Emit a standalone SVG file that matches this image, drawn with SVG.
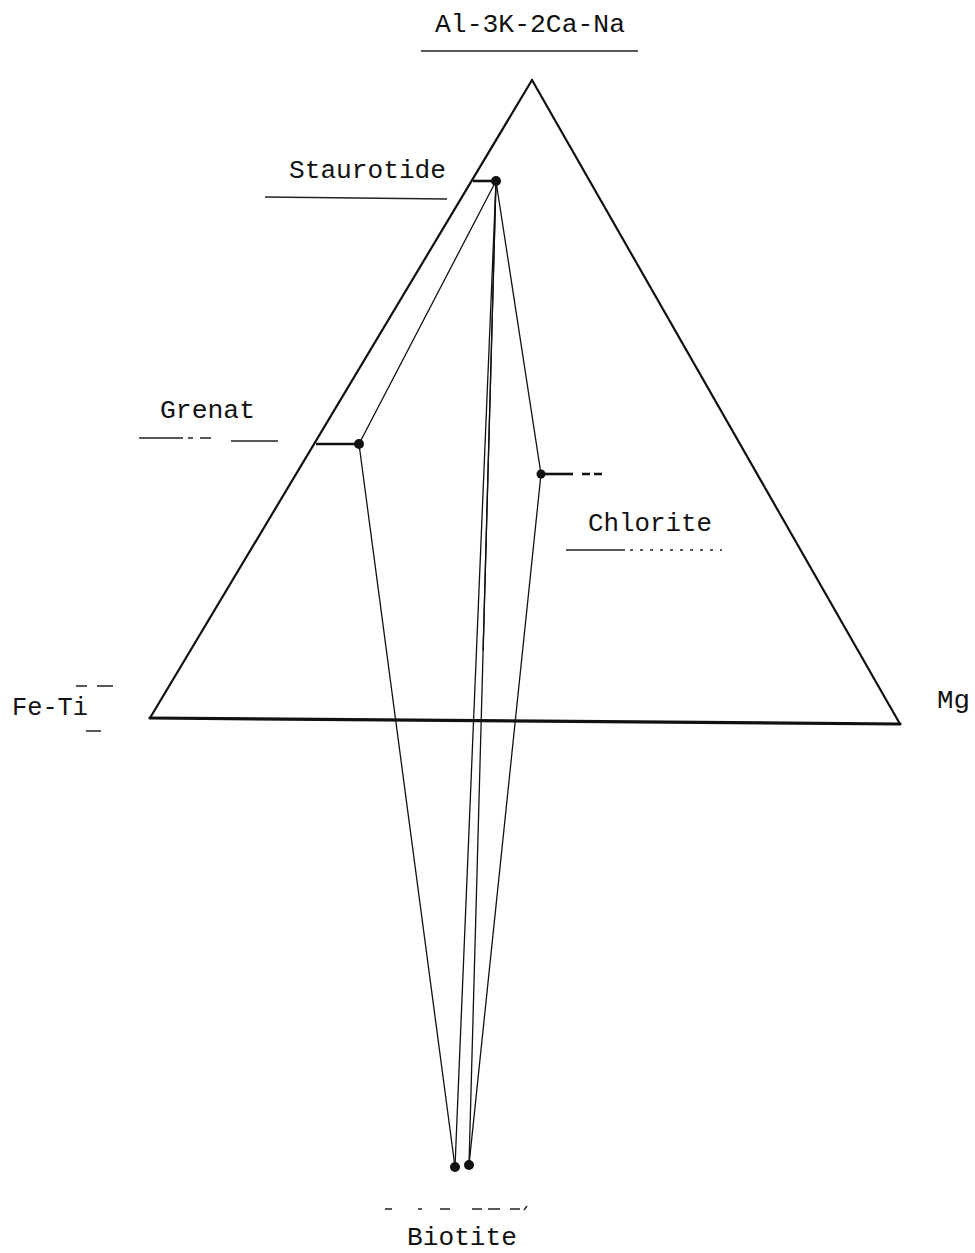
<svg xmlns="http://www.w3.org/2000/svg" width="975" height="1253" viewBox="0 0 975 1253">
<style>
text{font-family:"Liberation Mono","Courier New",monospace;font-size:25px;fill:#111}
.tri{stroke:#111;fill:none;stroke-linecap:round;stroke-linejoin:round}
.ln{stroke:#111;stroke-width:1.3;fill:none;stroke-linecap:round}
.tick{stroke:#111;stroke-width:2.6;fill:none}
.ul{stroke:#222;stroke-width:1.4;fill:none}
.pt{fill:#111}
</style>
<rect width="975" height="1253" fill="#fff"/>
<g id="triangle">
<line class="tri" x1="150" y1="718" x2="532" y2="80" stroke-width="2.2"/>
<line class="tri" x1="532" y1="80" x2="900" y2="724" stroke-width="2.2"/>
<line class="tri" x1="150" y1="718" x2="900" y2="724" stroke-width="3.2"/>
</g>
<g id="connectors">
<line class="ln" x1="496" y1="181" x2="359" y2="444"/>
<line class="ln" x1="496" y1="181" x2="541" y2="474" stroke-width="1.6"/>
<line class="ln" x1="496" y1="181" x2="455" y2="1167"/>
<line class="ln" x1="496" y1="181" x2="469" y2="1165"/>
<line class="ln" x1="496" y1="181" x2="483.13" y2="650" stroke-width="3"/>
<line class="ln" x1="359" y1="444" x2="455" y2="1167"/>
<line class="ln" x1="541" y1="474" x2="469" y2="1165"/>
</g>
<g id="apex-label">
<text x="530" y="32" text-anchor="middle" textLength="190" lengthAdjust="spacingAndGlyphs">Al-3K-2Ca-Na</text>
<line class="ul" x1="421" y1="51" x2="638" y2="51" stroke-width="2"/>
</g>
<g id="fe-ti">
<text x="12" y="715" textLength="76" lengthAdjust="spacingAndGlyphs">Fe-Ti</text>
<path class="ul" d="M76 686H87M97 686H113M86 731H101"/>
</g>
<g id="mg">
<text x="937" y="708" textLength="33" lengthAdjust="spacingAndGlyphs">Mg</text>
</g>
<g id="staurotide">
<line class="tick" x1="473" y1="181" x2="496" y2="181"/>
<circle class="pt" cx="496" cy="181" r="5"/>
<text x="289" y="178" textLength="157" lengthAdjust="spacingAndGlyphs">Staurotide</text>
<line class="ul" x1="265" y1="197" x2="447" y2="199"/>
</g>
<g id="grenat">
<line class="tick" x1="316" y1="444" x2="359" y2="444"/>
<circle class="pt" cx="359" cy="444" r="5"/>
<text x="160" y="418" textLength="95" lengthAdjust="spacingAndGlyphs">Grenat</text>
<path class="ul" d="M139 438H183M188 438H193M200 438H211M231 441H278"/>
</g>
<g id="chlorite">
<line class="tick" x1="541" y1="474" x2="573" y2="474"/>
<path class="tick" d="M582 474H590M594 474H602"/>
<circle class="pt" cx="541" cy="474" r="4.5"/>
<text x="588" y="531" textLength="124" lengthAdjust="spacingAndGlyphs">Chlorite</text>
<path class="ul" d="M566 550H625" />
<path class="ul" d="M630 550H722" stroke-dasharray="3 7"/>
</g>
<g id="biotite">
<circle class="pt" cx="455" cy="1167" r="5"/>
<circle class="pt" cx="469" cy="1165" r="5"/>
<text x="407" y="1245" textLength="110" lengthAdjust="spacingAndGlyphs">Biotite</text>
<path class="ul" d="M385 1209H392M418 1209H422M440 1209H450M472 1209H482M488 1209H500M510 1209H520M524 1210L527 1206"/>
</g>
</svg>
